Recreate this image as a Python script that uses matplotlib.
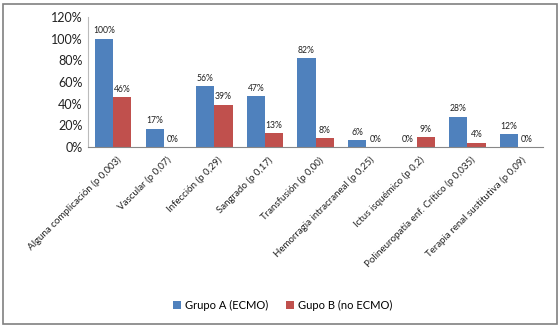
import numpy as np
import matplotlib
matplotlib.use("Agg")
import matplotlib.pyplot as plt
from matplotlib.patches import Rectangle

plt.rcParams['font.family'] = ['Lato', 'DejaVu Sans']

# categories and values (percent)
categorias = [
    "Alguna complicación (p 0,003)",
    "Vascular (p 0,07)",
    "Infección (p 0,29)",
    "Sangrado (p 0,17)",
    "Transfusión (p 0,00)",
    "Hemorragia intracraneal (p 0,25)",
    "Ictus isquémico (p 0,2)",
    "Polineuropatía enf. Crítico (p 0,035)",
    "Terapia renal sustitutiva (p 0,09)",
]
grupo_a = [100, 17, 56, 47, 82, 6, 0, 28, 12]
grupo_b = [46, 0, 39, 13, 8, 0, 9, 4, 0]
y_ticks = [0, 20, 40, 60, 80, 100, 120]

azul = "#4F81BD"
rojo = "#C0504D"

fig = plt.figure(figsize=(5.6, 3.28), dpi=100)
ax = fig.add_axes([0.157, 0.552, 0.813, 0.396])

x = np.arange(len(categorias))
w = 0.36
b1 = ax.bar(x - w / 2, grupo_a, w, color=azul, label="Grupo A (ECMO)")
b2 = ax.bar(x + w / 2, grupo_b, w, color=rojo, label="Gupo B (no ECMO)")

for bars, vals in ((b1, grupo_a), (b2, grupo_b)):
    for r, v in zip(bars, vals):
        ax.text(r.get_x() + r.get_width() / 2, v + 3, f"{v}%",
                ha="center", va="bottom", fontsize=6.2, color="#222222")

ax.set_xlim(-0.5, len(categorias) - 0.5)
ax.set_ylim(0, 120)
ax.set_yticks(y_ticks)
ax.set_yticklabels([f"{t}%" for t in y_ticks], fontsize=9, color="#222222")
ax.set_xticks(x + 0.06)
ax.set_xticklabels(categorias, rotation=45, ha="right", rotation_mode="anchor",
                   fontsize=7, color="#222222")
ax.tick_params(axis="y", length=0, pad=4)
ax.tick_params(axis="x", length=0, pad=6)

for s in ("top", "right"):
    ax.spines[s].set_visible(False)
ax.spines["left"].set_color("#BBBBBB")
ax.spines["bottom"].set_color("#888888")

fig.legend(handles=[b1, b2], loc="center", bbox_to_anchor=(0.505, 0.07), ncol=2,
           frameon=False, fontsize=8, handlelength=0.7, handleheight=0.7,
           columnspacing=1.6, handletextpad=0.4)

fig.patches.append(Rectangle((0.006, 0.012), 0.988, 0.976, transform=fig.transFigure,
                             fill=False, edgecolor="#808080", linewidth=1.2))

fig.savefig("out.png", dpi=100)
